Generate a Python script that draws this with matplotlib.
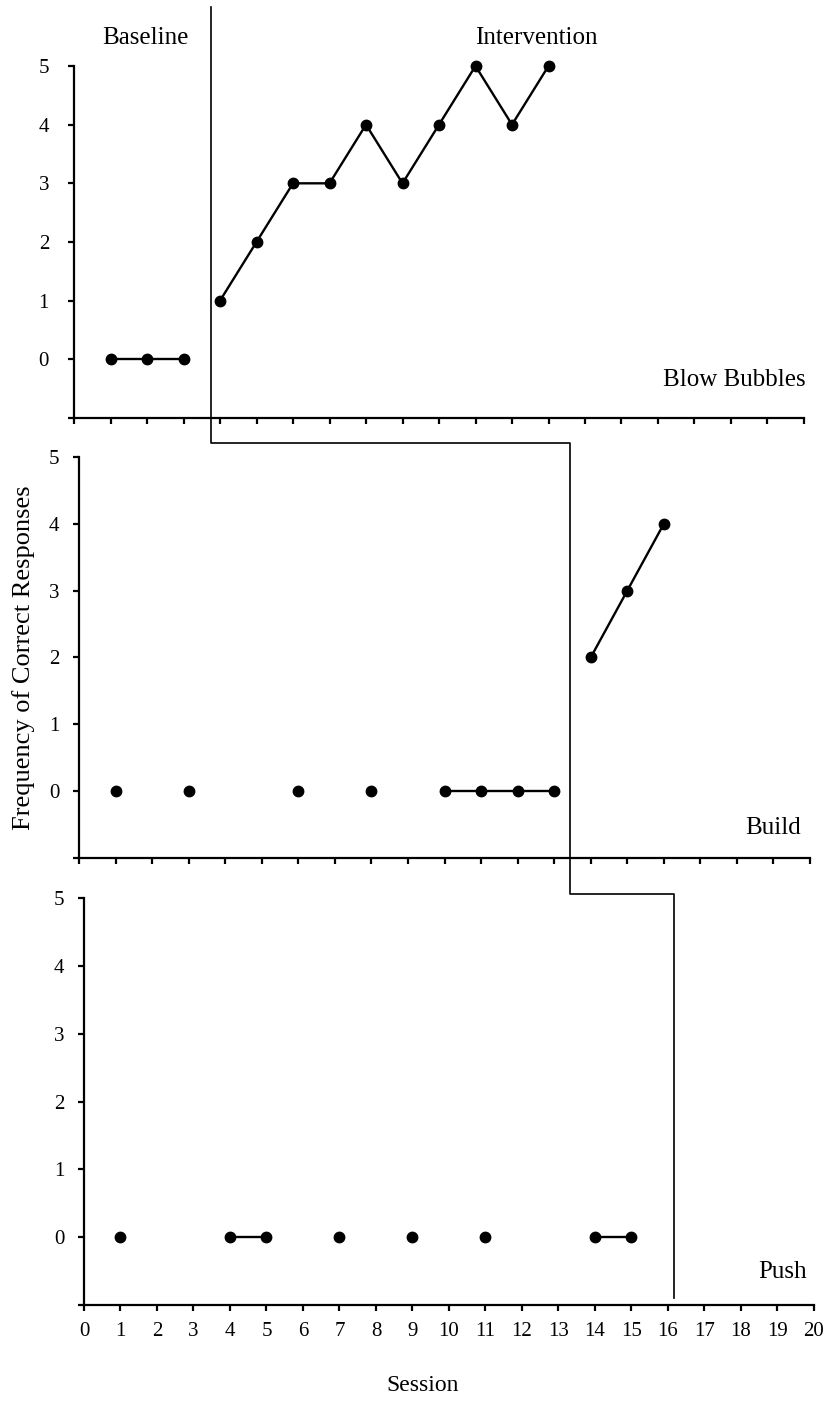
import numpy as np
import matplotlib
matplotlib.use('Agg')
import matplotlib.pyplot as plt
from matplotlib.lines import Line2D

plt.rcParams['font.family'] = ['Liberation Serif', 'DejaVu Serif']

nan = np.nan

# Blow Bubbles
bubbles_base_x = [1, 2, 3]
bubbles_base_y = [0, 0, 0]
bubbles_int_x = [4, 5, 6, 7, 8, 9, 10, 11, 12, 13]
bubbles_int_y = [1, 2, 3, 3, 4, 3, 4, 5, 4, 5]

# Build (nan = no session for this target, breaks the line)
build_base_x = list(range(1, 14))
build_base_y = [0, nan, 0, nan, nan, 0, nan, 0, nan, 0, 0, 0, 0]
build_int_x = [14, 15, 16]
build_int_y = [2, 3, 4]

# Push
push_base_x = list(range(1, 16))
push_base_y = [0, nan, nan, 0, 0, nan, 0, nan, 0, nan, 0, nan, nan, 0, 0]

# phase change lines (session position) for each panel
phase_x = [3.75, 13.43, 16.16]

sessions = list(range(0, 21))
y_ticks = [-1, 0, 1, 2, 3, 4, 5]
y_labels = ['', '0', '1', '2', '3', '4', '5']

fig = plt.figure(figsize=(8.28, 14.04), dpi=100)
ax1 = fig.add_axes([0.0894, 0.7023, 0.8816, 0.2507])
ax2 = fig.add_axes([0.0954, 0.3889, 0.8829, 0.2856])
ax3 = fig.add_axes([0.1014, 0.0705, 0.8816, 0.2899])

line_kw = dict(color='black', marker='o', markersize=7.5, linewidth=1.7, clip_on=False)

ax1.plot(bubbles_base_x, bubbles_base_y, **line_kw)
ax1.plot(bubbles_int_x, bubbles_int_y, **line_kw)
ax2.plot(build_base_x, build_base_y, **line_kw)
ax2.plot(build_int_x, build_int_y, **line_kw)
ax3.plot(push_base_x, push_base_y, **line_kw)

for ax, pad in [(ax1, 14), (ax2, 10), (ax3, 10)]:
    ax.set_xlim(0, 20)
    ax.set_ylim(-1, 5)
    ax.set_xticks(sessions)
    ax.set_yticks(y_ticks)
    ax.set_yticklabels(y_labels)
    ax.spines['top'].set_visible(False)
    ax.spines['right'].set_visible(False)
    ax.spines['left'].set_linewidth(1.6)
    ax.spines['bottom'].set_linewidth(1.6)
    ax.tick_params(axis='both', direction='out', length=4, width=1.6, labelsize=15)
    ax.tick_params(axis='y', pad=pad)
    ax.tick_params(axis='x', pad=8)

ax1.set_xticklabels([])
ax2.set_xticklabels([])

ax1.text(1.95, 5.48, 'Baseline', fontsize=18, ha='center', va='center', clip_on=False)
ax1.text(12.66, 5.48, 'Intervention', fontsize=18, ha='center', va='center', clip_on=False)
ax1.text(20.05, -0.35, 'Blow Bubbles', fontsize=18, ha='right', va='center')
ax2.text(19.75, -0.55, 'Build', fontsize=18, ha='right', va='center')
ax3.text(19.8, -0.52, 'Push', fontsize=18, ha='right', va='center')

ax2.set_ylabel('Frequency of Correct Responses', fontsize=19)
ax2.yaxis.set_label_coords(-0.06, 0.5)
ax3.set_xlabel('Session', fontsize=17)
ax3.xaxis.set_label_coords(0.464, -0.172)

# stepped phase change line running through the three panels
inv = fig.transFigure.inverted()
def to_fig(ax, x, y):
    return inv.transform(ax.transData.transform((x, y)))

top = to_fig(ax1, phase_x[0], 6.0)
step1 = to_fig(ax2, phase_x[1], 5.21)
step2 = to_fig(ax3, phase_x[2], 5.06)
end = to_fig(ax3, phase_x[2], -0.9)

xs = [top[0], top[0], step1[0], step1[0], step2[0], step2[0]]
ys = [top[1], step1[1], step1[1], step2[1], step2[1], end[1]]
fig.add_artist(Line2D(xs, ys, transform=fig.transFigure, color='black', linewidth=1.2))

fig.savefig('out.png', dpi=100)
